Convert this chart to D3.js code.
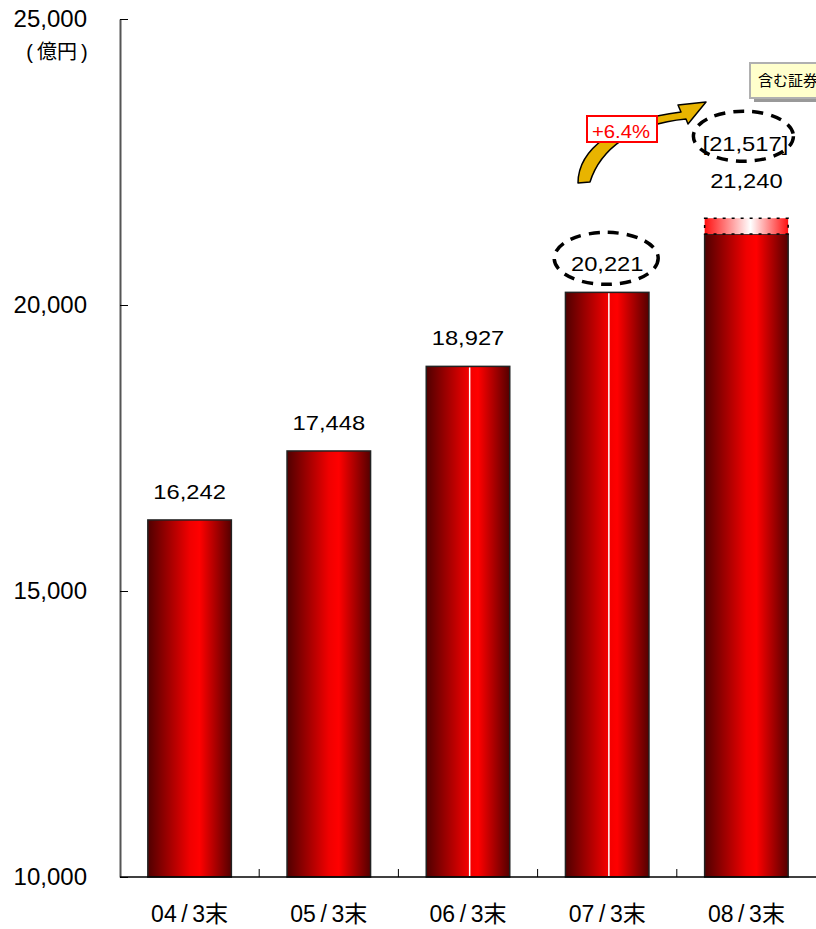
<!DOCTYPE html>
<html>
<head>
<meta charset="utf-8">
<script src="https://cdn.jsdelivr.net/npm/d3@7"></script>
<style>
  body { margin: 0; background: #fff; }
  svg text { font-family: "Liberation Sans", Arial, "Noto Sans CJK JP", sans-serif; }
</style>
</head>
<body>
<svg id="chart"></svg>
<script>
// data
const categories = ["04/3末", "05/3末", "06/3末", "07/3末", "08/3末"];
const values = [16242, 17448, 18927, 20221, 21240];
const extraValue = 21517;          // 08/3末 incl. securities
const yTicks = [10000, 15000, 20000, 25000];
const growthLabel = "+6.4%";
const noteLabel = "含む証券";
const unitLabel = "(億円)";

const width = 816, height = 929;
const margin = { top: 19, bottom: 52, left: 120, right: 0 };

const svg = d3.select("#chart").attr("width", width).attr("height", height);

const y = d3.scaleLinear()
    .domain([10000, 25000])
    .range([height - margin.bottom, margin.top]);

const x = d3.scaleBand()
    .domain(categories)
    .range([margin.left, width - margin.right])
    .paddingInner(0.4)
    .paddingOuter(0.2);

// gradients
const defs = svg.append("defs");
const barGrad = defs.append("linearGradient").attr("id", "barGrad")
    .attr("x1", "0%").attr("x2", "100%").attr("y1", "0%").attr("y2", "0%");
[[0, "#500000"], [0.5, "#f00000"], [0.62, "#ff0000"], [1, "#550000"]]
    .forEach(s => barGrad.append("stop").attr("offset", s[0]).attr("stop-color", s[1]));

const extraGrad = defs.append("linearGradient").attr("id", "extraGrad")
    .attr("x1", "0%").attr("x2", "100%").attr("y1", "0%").attr("y2", "0%");
[[0, "#ff1010"], [0.55, "#ffffff"], [1, "#ff1010"]]
    .forEach(s => extraGrad.append("stop").attr("offset", s[0]).attr("stop-color", s[1]));

// stretched number labels (the original font is wider than Liberation)
const stretch = (sel, px, py) => sel
    .attr("transform", (d, i) => `translate(${px(d, i)},${py(d, i)}) scale(1.13,1)`)
    .attr("x", 0).attr("y", 0);

// y axis
const yAxis = g => g
    .attr("transform", `translate(${margin.left},0)`)
    .call(d3.axisLeft(y).tickValues(yTicks).tickFormat(d3.format(",")).tickSizeInner(-8).tickSizeOuter(0).tickPadding(33))
    .call(g => g.select(".domain").attr("stroke", "#555").attr("stroke-width", 2))
    .call(g => g.selectAll(".tick line").attr("stroke", "#000"))
    .call(g => g.selectAll(".tick text").attr("font-size", 24).attr("fill", "#000")
        .attr("font-family", "Liberation Sans, Arial, sans-serif"));

svg.append("g").call(yAxis);

svg.append("text")
    .attr("x", 57).attr("y", 59)
    .attr("text-anchor", "middle")
    .attr("font-size", 20)
    .text(unitLabel.replace("(", "(\u2009").replace(")", "\u2009)"));

// bars
const bars = svg.append("g");
bars.selectAll("rect")
    .data(categories)
    .join("rect")
    .attr("x", d => x(d))
    .attr("y", (d, i) => y(values[i]))
    .attr("width", x.bandwidth())
    .attr("height", (d, i) => y(10000) - y(values[i]))
    .attr("fill", "url(#barGrad)")
    .attr("stroke", "#222")
    .attr("stroke-width", 1.5);

// thin white seams seen in two bars
bars.selectAll("line.seam")
    .data(categories.slice(2, 4))
    .join("line")
    .attr("class", "seam")
    .attr("x1", d => x(d) + x.bandwidth() * 0.52)
    .attr("x2", d => x(d) + x.bandwidth() * 0.52)
    .attr("y1", d => y(values[categories.indexOf(d)]) + 1)
    .attr("y2", y(10000) - 1)
    .attr("stroke", "#fff").attr("stroke-width", 1.5);

// extra segment on last bar
const last = categories[categories.length - 1];
bars.append("rect")
    .attr("x", x(last))
    .attr("y", y(extraValue))
    .attr("width", x.bandwidth())
    .attr("height", y(values[4]) - y(extraValue))
    .attr("fill", "url(#extraGrad)")
    .attr("stroke", "#000")
    .attr("stroke-width", 1.5)
    .attr("stroke-dasharray", "3,6");

// x axis
svg.append("line")
    .attr("x1", margin.left).attr("x2", width)
    .attr("y1", y(10000)).attr("y2", y(10000))
    .attr("stroke", "#000").attr("stroke-width", 1.5);

const gap = x.step() - x.bandwidth();
svg.append("g").selectAll("line")
    .data(categories.slice(0, -1))
    .join("line")
    .attr("x1", d => x(d) + x.bandwidth() + gap / 2)
    .attr("x2", d => x(d) + x.bandwidth() + gap / 2)
    .attr("y1", y(10000)).attr("y2", y(10000) - 8)
    .attr("stroke", "#000");

svg.append("g").selectAll("text")
    .data(categories)
    .join("text")
    .attr("x", d => x(d) + x.bandwidth() / 2)
    .attr("y", 922)
    .attr("text-anchor", "middle")
    .attr("font-size", 23)
    .text(d => d.replace("/", "\u2009/\u2009"));

// value labels
const fmt = d3.format(",");
svg.append("g").selectAll("text")
    .data(categories)
    .join("text")
    .call(stretch, d => x(d) + x.bandwidth() / 2,
        (d, i) => i === 4 ? y(extraValue) - 30 : y(values[i]) - 21)
    .attr("text-anchor", "middle")
    .attr("font-size", 21)
    .text((d, i) => fmt(values[i]));

svg.append("text")
    .datum(last)
    .call(stretch, d => x(d) + x.bandwidth() / 2 - 1, () => y(extraValue) - 67)
    .attr("text-anchor", "middle")
    .attr("font-size", 21)
    .text(`[${fmt(extraValue)}]`);

// dashed ellipses
const ell = svg.append("g").attr("fill", "none").attr("stroke", "#000")
    .attr("stroke-width", 3.5).attr("stroke-dasharray", "11,8");
ell.append("ellipse")
    .attr("cx", x(categories[3]) + x.bandwidth() / 2 - 1)
    .attr("cy", y(values[3]) - 34)
    .attr("rx", 52).attr("ry", 26);
ell.append("ellipse")
    .attr("cx", x(last) + x.bandwidth() / 2 - 3)
    .attr("cy", y(extraValue) - 82)
    .attr("rx", 50).attr("ry", 25);

// curved arrow
svg.append("path")
    .attr("d", "M578,183 C578,150 615,120 681,112 L678,105 L706,102 L688,124 L686,119 C632,124 600,150 590,182 Z")
    .attr("fill", "#e8b400")
    .attr("stroke", "#000")
    .attr("stroke-width", 1.5)
    .attr("stroke-linejoin", "round");

// growth box
svg.append("rect")
    .attr("x", 587).attr("y", 116).attr("width", 70).attr("height", 26)
    .attr("fill", "#fff").attr("stroke", "#ff0000").attr("stroke-width", 2);
svg.append("text")
    .datum(0)
    .call(stretch, () => 621, () => 138)
    .attr("text-anchor", "middle")
    .attr("font-size", 18)
    .attr("fill", "#ff0000")
    .text(growthLabel);

// note box
svg.append("rect")
    .attr("x", 754).attr("y", 67).attr("width", 80).attr("height", 35)
    .attr("fill", "#999");
svg.append("rect")
    .attr("x", 750).attr("y", 63).attr("width", 80).attr("height", 35)
    .attr("fill", "#ffffcc").attr("stroke", "#b0b0b0").attr("stroke-width", 2);
svg.append("text")
    .attr("x", 758).attr("y", 86)
    .attr("font-size", 15)
    .text(noteLabel);
</script>
</body>
</html>
